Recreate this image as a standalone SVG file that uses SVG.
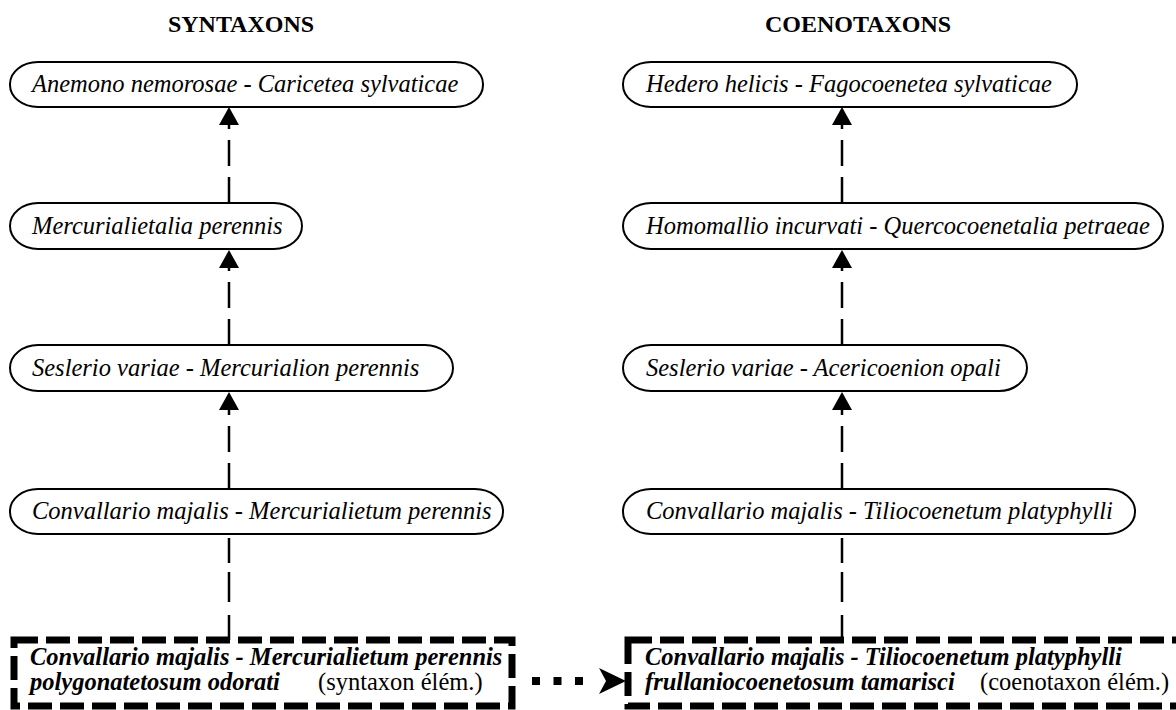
<svg xmlns="http://www.w3.org/2000/svg" width="1176" height="710" viewBox="0 0 1176 710">
<defs>
<style>
.bg{fill:#fff}
.node{fill:#fff;stroke:#000;stroke-width:2}
.lbl{font-family:"Liberation Serif","Times New Roman",serif;font-style:italic;font-size:24.5px;fill:#000}
.title{font-family:"Liberation Serif","Times New Roman",serif;font-weight:bold;font-size:24px;fill:#000;text-anchor:middle}
.elem{fill:none;stroke:#000;stroke-width:7;stroke-dasharray:24 8}
.bl{font-family:"Liberation Serif","Times New Roman",serif;font-style:italic;font-weight:bold;font-size:24.5px;fill:#000}
.reg{font-style:normal;font-weight:normal}
.shaft{fill:none;stroke:#000;stroke-width:2.5;stroke-dasharray:26 11}
.head{fill:#000}
.dots{fill:none;stroke:#000;stroke-width:8;stroke-dasharray:8 13.5}
</style>
</defs>
<rect class="bg" x="0" y="0" width="1176" height="710"/>
<text class="title" x="241" y="32">SYNTAXONS</text>
<text class="title" x="858" y="32">COENOTAXONS</text>

<g id="connectors">
<path class="shaft" d="M229 203 V124"/>
<polygon class="head" points="229,107 219,125 239,125"/>
<path class="shaft" d="M229 345 V266"/>
<polygon class="head" points="229,250 219,268 239,268"/>
<path class="shaft" d="M229 489 V408"/>
<polygon class="head" points="229,392 219,410 239,410"/>
<path class="shaft" d="M229 640 V534" style="stroke-dasharray:25 13 30 9"/>
<path class="shaft" d="M842 203 V124"/>
<polygon class="head" points="842,107 832,125 852,125"/>
<path class="shaft" d="M842 345 V266"/>
<polygon class="head" points="842,250 832,268 852,268"/>
<path class="shaft" d="M842 489 V408"/>
<polygon class="head" points="842,392 832,410 852,410"/>
<path class="shaft" d="M842 640 V534" style="stroke-dasharray:25 13 30 9"/>
<path class="dots" d="M532 681 H592"/>
<polygon class="head" points="599,668 626,681 599,694 606,681"/>
</g>

<g id="s1"><rect class="node" x="10" y="62" width="473" height="45" rx="28" ry="22"/><text class="lbl" x="32" y="92">Anemono nemorosae - Caricetea sylvaticae</text></g>
<g id="s2"><rect class="node" x="10" y="203" width="292" height="46" rx="28" ry="23"/><text class="lbl" x="32" y="234">Mercurialietalia perennis</text></g>
<g id="s3"><rect class="node" x="10" y="345" width="443" height="46" rx="28" ry="23"/><text class="lbl" x="32" y="376">Seslerio variae - Mercurialion perennis</text></g>
<g id="s4"><rect class="node" x="10" y="489" width="493" height="45" rx="28" ry="22"/><text class="lbl" x="32" y="519">Convallario majalis - Mercurialietum perennis</text></g>

<g id="c1"><rect class="node" x="623" y="62" width="454" height="45" rx="28" ry="22"/><text class="lbl" x="646" y="92">Hedero helicis - Fagocoenetea sylvaticae</text></g>
<g id="c2"><rect class="node" x="623" y="203" width="540" height="46" rx="28" ry="23"/><text class="lbl" x="646" y="234">Homomallio incurvati - Quercocoenetalia petraeae</text></g>
<g id="c3"><rect class="node" x="623" y="345" width="404" height="46" rx="28" ry="23"/><text class="lbl" x="646" y="376">Seslerio variae - Acericoenion opali</text></g>
<g id="c4"><rect class="node" x="623" y="489" width="512" height="45" rx="28" ry="22"/><text class="lbl" x="646" y="519">Convallario majalis - Tiliocoenetum platyphylli</text></g>

<g id="syntaxon-elem">
<rect class="elem" x="14" y="640" width="498" height="66"/>
<text class="bl" x="30" y="665">Convallario majalis - Mercurialietum perennis</text>
<text class="bl" x="30" y="690">polygonatetosum odorati<tspan class="reg" x="318">(syntaxon élém.)</tspan></text>
</g>
<g id="coenotaxon-elem">
<rect class="elem" x="628" y="640" width="570" height="66"/>
<text class="bl" x="645" y="665">Convallario majalis - Tiliocoenetum platyphylli</text>
<text class="bl" x="645" y="690">frullaniocoenetosum tamarisci<tspan class="reg" x="980">(coenotaxon élém.)</tspan></text>
</g>
</svg>
